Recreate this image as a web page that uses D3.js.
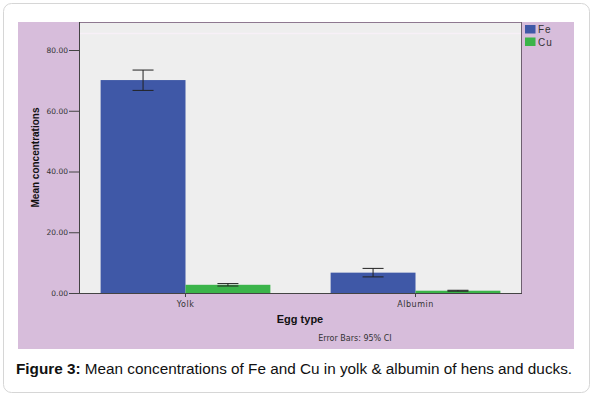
<!DOCTYPE html>
<html lang="en">
<head>
<meta charset="utf-8">
<title>Figure 3 - Fe and Cu</title>
<script src="https://d3js.org/d3.v7.min.js"></script>
<style>
  body { margin: 0; background: #fff; }
  svg { display: block; font-family: "Liberation Sans", Arial, sans-serif; }
</style>
</head>
<body>
<svg id="chart" width="593" height="397"></svg>
<script>
// data
const categories = ["Yolk", "Albumin"];
const series = ["Fe", "Cu"];
const feMeans = [70.1, 6.7];
const feLow = [66.7, 5.3];
const feHigh = [73.4, 8.1];
const cuMeans = [2.7, 0.75];
const cuLow = [2.3, 0.6];
const cuHigh = [3.1, 0.9];
const yTicks = [0, 20, 40, 60, 80];

const colors = { Fe: "#3f58a7", Cu: "#3bb44a" };

const rows = [];
categories.forEach((c, i) => {
  rows.push({ cat: c, s: "Fe", v: feMeans[i], lo: feLow[i], hi: feHigh[i] });
  rows.push({ cat: c, s: "Cu", v: cuMeans[i], lo: cuLow[i], hi: cuHigh[i] });
});

const svg = d3.select("#chart");

// card
svg.append("rect")
  .attr("x", 3.5).attr("y", 3.5).attr("width", 586).attr("height", 389)
  .attr("rx", 8).attr("fill", "#fff").attr("stroke", "#d6d6d6");

// purple panel
svg.append("rect")
  .attr("x", 18).attr("y", 22).attr("width", 556).attr("height", 327)
  .attr("fill", "#d7bddb");

const plot = { left: 79, right: 522, top: 22, bottom: 293 };

svg.append("rect")
  .attr("x", plot.left).attr("y", plot.top)
  .attr("width", plot.right - plot.left).attr("height", plot.bottom - plot.top)
  .attr("fill", "#eeeeee");

// faint line near the top of the plot
svg.append("line")
  .attr("x1", plot.left + 1).attr("x2", plot.right - 1)
  .attr("y1", 33.5).attr("y2", 33.5)
  .attr("stroke", "#f7f0f7").attr("stroke-width", 1.5);

const y = d3.scaleLinear().domain([0, 80]).range([plot.bottom, 50]);
const x = d3.scaleBand().domain(categories).range([plot.left, plot.right])
  .paddingInner(0.262).paddingOuter(0.094);
const xs = d3.scaleBand().domain(series).range([0, x.bandwidth()]);

// bars
svg.append("g").selectAll("rect")
  .data(rows).enter().append("rect")
  .attr("x", d => x(d.cat) + xs(d.s))
  .attr("y", d => y(d.v))
  .attr("width", xs.bandwidth())
  .attr("height", d => y(0) - y(d.v))
  .attr("fill", d => colors[d.s]);

// error bars
const eb = svg.append("g").attr("stroke", "#222").attr("stroke-width", 1);
rows.forEach(d => {
  const cx = x(d.cat) + xs(d.s) + xs.bandwidth() / 2;
  const w = 10.5;
  eb.append("line").attr("x1", cx).attr("x2", cx).attr("y1", y(d.hi)).attr("y2", y(d.lo));
  eb.append("line").attr("x1", cx - w).attr("x2", cx + w).attr("y1", y(d.hi)).attr("y2", y(d.hi));
  eb.append("line").attr("x1", cx - w).attr("x2", cx + w).attr("y1", y(d.lo)).attr("y2", y(d.lo));
});

// frame lines
svg.append("line").attr("x1", plot.left).attr("x2", plot.right)
  .attr("y1", plot.top + 0.5).attr("y2", plot.top + 0.5).attr("stroke", "#8e7890");
svg.append("line").attr("x1", plot.right - 0.5).attr("x2", plot.right - 0.5)
  .attr("y1", plot.top).attr("y2", plot.bottom).attr("stroke", "#6e6070");

// y axis
const yAxis = svg.append("g")
  .attr("transform", `translate(${plot.left},0)`)
  .call(d3.axisLeft(y).tickValues(yTicks).tickFormat(d3.format(".2f")).tickSize(10).tickPadding(1));
yAxis.select(".domain").attr("stroke", "#444").attr("d", `M0.5,${plot.top}V${plot.bottom}`);
yAxis.selectAll(".tick line").attr("stroke", "#444");
yAxis.selectAll(".tick text").attr("font-size", 7.5).attr("fill", "#333")
  .attr("font-family", "DejaVu Sans, sans-serif");

// x axis
const xAxis = svg.append("g")
  .attr("transform", `translate(0,${plot.bottom})`)
  .call(d3.axisBottom(x).tickSize(4).tickPadding(4));
xAxis.select(".domain").attr("stroke", "#444").attr("d", `M${plot.left},0.5H${plot.right}`);
xAxis.selectAll(".tick line").attr("stroke", "#444")
  .attr("transform", d => `translate(${x.bandwidth() / 2},0)`);
xAxis.selectAll(".tick text").attr("font-size", 8).attr("fill", "#333")
  .attr("font-family", "DejaVu Sans, sans-serif").attr("letter-spacing", 0.5)
  .attr("transform", d => `translate(${x.bandwidth() / 2},0)`);
// ticks at the group centre (between the two bars)
xAxis.selectAll(".tick").attr("transform", d => `translate(${x(d)},0)`);

// axis titles
svg.append("text")
  .attr("transform", `translate(39,${(plot.top + plot.bottom) / 2}) rotate(-90)`)
  .attr("text-anchor", "middle").attr("font-size", 10).attr("font-weight", "bold")
  .attr("fill", "#111").text("Mean concentrations");

svg.append("text")
  .attr("x", 300).attr("y", 323).attr("text-anchor", "middle")
  .attr("font-size", 11).attr("font-weight", "bold").attr("fill", "#111")
  .text("Egg type");

svg.append("text")
  .attr("x", 355).attr("y", 341).attr("text-anchor", "middle")
  .attr("font-size", 8).attr("fill", "#333")
  .attr("font-family", "DejaVu Sans, sans-serif")
  .text("Error Bars: 95% CI");

// legend
const lg = svg.append("g").selectAll("g").data(series).enter().append("g")
  .attr("transform", (d, i) => `translate(525,${25 + i * 12.5})`);
lg.append("rect").attr("width", 10.5).attr("height", 8.5).attr("fill", d => colors[d]);
lg.append("text").attr("x", 13).attr("y", 8).attr("font-size", 10)
  .attr("fill", "#333").attr("letter-spacing", 1).text(d => d);

// caption
const cap = svg.append("text").attr("x", 16).attr("y", 374)
  .attr("font-size", 15.3).attr("fill", "#111");
cap.append("tspan").attr("font-weight", "bold").text("Figure 3:");
cap.append("tspan").text(" Mean concentrations of Fe and Cu in yolk & albumin of hens and ducks.");
</script>
</body>
</html>
